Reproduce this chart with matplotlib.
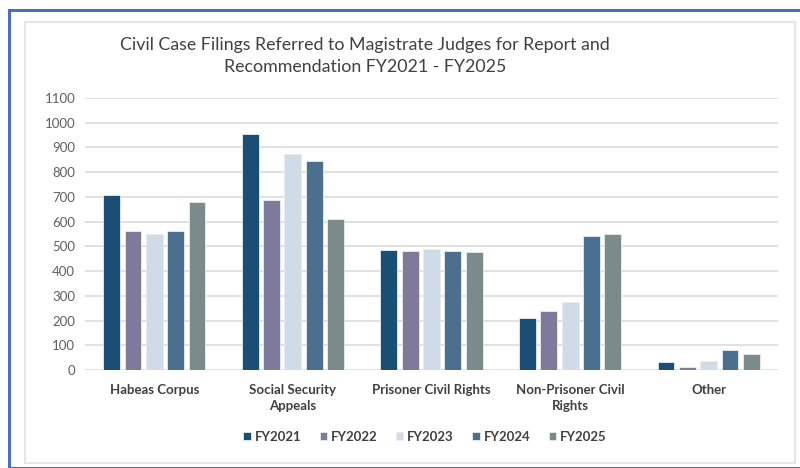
import numpy as np
import matplotlib
matplotlib.use("Agg")
import matplotlib.pyplot as plt
from matplotlib.patches import Rectangle

# data
categories = ["Habeas Corpus", "Social Security\nAppeals", "Prisoner Civil Rights",
              "Non-Prisoner Civil\nRights", "Other"]
years = ["FY2021", "FY2022", "FY2023", "FY2024", "FY2025"]
fy2021 = [707, 953, 486, 212, 31]
fy2022 = [562, 688, 480, 239, 14]
fy2023 = [551, 874, 490, 277, 37]
fy2024 = [561, 847, 480, 540, 80]
fy2025 = [680, 612, 478, 548, 66]
yticks = list(range(0, 1101, 100))

colors = ["#1b4e75", "#7f7a9b", "#cfdbe7", "#4a6f8f", "#7b8b8b"]
series = [fy2021, fy2022, fy2023, fy2024, fy2025]

plt.rcParams["font.family"] = ["Lato", "DejaVu Sans"]

fig = plt.figure(figsize=(8, 4.68), dpi=100)
W, H = 800, 468

# outer blue frame and inner grey chart frame
fig.patches.append(Rectangle((9 / W, 0), 1, 1 - 10 / H, transform=fig.transFigure,
                             fill=False, edgecolor="#4a6fc0", linewidth=2.2, zorder=0))
fig.patches.append(Rectangle((25 / W, 1 - 463 / H), (795 - 25) / W, (463 - 22) / H,
                             transform=fig.transFigure, fill=False,
                             edgecolor="#e6e6e6", linewidth=1.5, zorder=0))

ax = fig.add_axes([85 / W, (H - 370) / H, (778 - 85) / W, (370 - 98) / H])

x = np.arange(len(categories))
step = 0.154
width = 0.122
for i, (vals, c, lab) in enumerate(zip(series, colors, years)):
    ax.bar(x + (i - 2) * step, vals, width=width, color=c, label=lab,
           edgecolor="#e8ecf0", linewidth=0.6, zorder=3)

ax.set_xlim(-0.5, len(categories) - 0.5)
ax.set_ylim(0, 1100)
ax.set_yticks(yticks)
ax.set_xticks(x)
ax.set_xticklabels(categories, fontsize=9.5, fontweight="bold", color="#404040",
                   linespacing=1.45)
ax.tick_params(axis="both", length=0)
ax.tick_params(axis="y", labelsize=9.5, labelcolor="#606060", pad=7)
ax.tick_params(axis="x", pad=10)
ax.grid(axis="y", color="#dcdcdc", linewidth=1.2, zorder=0)
for s in ax.spines.values():
    s.set_visible(False)

fig.text(365 / W, 1 - 56 / H,
         "Civil Case Filings Referred to Magistrate Judges for Report and\nRecommendation FY2021 - FY2025",
         ha="center", va="center", fontsize=12.8, color="#404040", linespacing=1.45)

fig.legend(loc="center", bbox_to_anchor=(425 / W, 1 - 437 / H), ncol=5, frameon=False,
           handlelength=0.55, handleheight=0.55, handletextpad=0.3,
           columnspacing=1.4, prop={"weight": "bold", "size": 9.5})
for t in fig.legends[0].get_texts():
    t.set_color("#404040")

fig.savefig("out.png", dpi=100)
